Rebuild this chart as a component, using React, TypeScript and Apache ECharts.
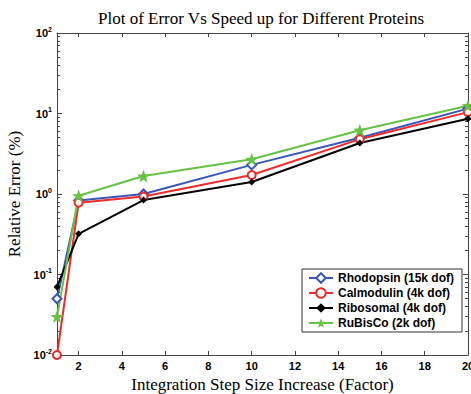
import React, { useEffect, useRef } from "react";
import * as echarts from "echarts";

const xValues = [1, 2, 5, 10, 15, 20];
const rhodopsin = [0.05, 0.83, 1.0, 2.3, 5.0, 11.5];
const calmodulin = [0.01, 0.78, 0.93, 1.72, 4.8, 10.4];
const ribosomal = [0.07, 0.32, 0.84, 1.41, 4.3, 8.6];
const rubisco = [0.03, 0.95, 1.67, 2.7, 6.2, 12.5];

const seriesNames = [
  "Rhodopsin (15k dof)",
  "Calmodulin (4k dof)",
  "Ribosomal (4k dof)",
  "RuBisCo (2k dof)",
];
const xTicks = [2, 4, 6, 8, 10, 12, 14, 16, 18, 20];
const decades = [-2, -1, 0, 1, 2];

function starPath(): string {
  const pts: string[] = [];
  for (let i = 0; i < 10; i++) {
    const r = i % 2 === 0 ? 1 : 0.4;
    const a = -Math.PI / 2 + (i * Math.PI) / 5;
    pts.push(`${(r * Math.cos(a)).toFixed(3)} ${(r * Math.sin(a)).toFixed(3)}`);
  }
  return "path://M" + pts.join(" L") + " Z";
}

export default function App() {
  const ref = useRef<HTMLDivElement>(null);
  useEffect(() => {
    document.body.style.margin = "0";
    const chart = echarts.init(ref.current!, null, { renderer: "svg" });
    const pair = (ys: number[]) => xValues.map((x, i) => [x, ys[i]]);
    const minorLog: number[] = [];
    for (let d = -2; d < 2; d++) {
      for (let k = 2; k <= 9; k++) minorLog.push(d + Math.log10(k));
    }
    const tickFont = { fontFamily: "Liberation Sans, Arial", fontWeight: "bold" as const, fontSize: 11, color: "#000" };
    const nameFont = { fontFamily: "Liberation Serif, Times New Roman", fontWeight: "normal" as const, fontSize: 17, color: "#000" };
    const lineCol = "#444";
    const option: any = {
      animation: false,
      backgroundColor: "#fff",
      title: {
        text: "Plot of Error Vs Speed up for Different Proteins",
        left: 93,
        top: 5,
        textStyle: { ...nameFont },
      },
      grid: { left: 57, right: 3, top: 33, bottom: 39, containLabel: false, outerBoundsMode: "none" },
      legend: {
        orient: "vertical",
        left: 302,
        top: 269,
        backgroundColor: "#fff",
        borderColor: "#333",
        borderWidth: 1,
        padding: [3, 8, 3, 6],
        itemWidth: 24,
        itemHeight: 12,
        itemGap: 3,
        textStyle: { ...tickFont, fontSize: 12 },
        data: seriesNames,
      },
      xAxis: [
        {
          type: "value",
          min: 1,
          max: 20,
          name: "Integration Step Size Increase (Factor)",
          nameLocation: "middle",
          nameGap: 21,
          nameTextStyle: nameFont,
          axisLine: { show: true, onZero: false, lineStyle: { color: lineCol, width: 1 } },
          axisTick: { show: true, inside: true, length: 4, customValues: xTicks, lineStyle: { color: lineCol } },
          axisLabel: { ...tickFont, margin: 5, customValues: xTicks },
          splitLine: { show: false },
        },
        {
          type: "value",
          min: 1,
          max: 20,
          position: "top",
          axisLine: { show: true, onZero: false, lineStyle: { color: lineCol, width: 1 } },
          axisTick: { show: true, inside: true, length: 4, customValues: xTicks, lineStyle: { color: lineCol } },
          axisLabel: { show: false },
          splitLine: { show: false },
        },
      ],
      yAxis: [
        {
          type: "log",
          logBase: 10,
          min: 0.01,
          max: 100,
          name: "Relative Error (%)",
          nameLocation: "middle",
          nameGap: 30,
          nameTextStyle: nameFont,
          axisLine: { show: true, onZero: false, lineStyle: { color: lineCol, width: 1 } },
          axisTick: { show: true, inside: true, length: 5, lineStyle: { color: lineCol } },
          axisLabel: {
            margin: 5,
            formatter: (v: number) => `{b|10}{s|${Math.round(Math.log10(v))}}`,
            rich: {
              b: { ...tickFont, fontSize: 11 },
              s: { ...tickFont, fontSize: 7, padding: [0, 0, 8, 0] },
            },
          },
          splitLine: { show: false },
        },
        {
          type: "value",
          min: -2,
          max: 2,
          position: "left",
          axisLine: { show: false, onZero: false },
          axisTick: { show: true, inside: true, length: 3, customValues: minorLog, lineStyle: { color: lineCol } },
          axisLabel: { show: false },
          splitLine: { show: false },
        },
        {
          type: "value",
          min: -2,
          max: 2,
          position: "right",
          axisLine: { show: true, onZero: false, lineStyle: { color: lineCol, width: 1 } },
          axisTick: { show: true, inside: true, length: 3, customValues: minorLog, lineStyle: { color: lineCol } },
          axisLabel: { show: false },
          splitLine: { show: false },
        },
        {
          type: "value",
          min: -2,
          max: 2,
          position: "right",
          axisLine: { show: false, onZero: false },
          axisTick: { show: true, inside: true, length: 5, customValues: decades, lineStyle: { color: lineCol } },
          axisLabel: { show: false },
          splitLine: { show: false },
        },
      ],
      series: [
        {
          name: seriesNames[0],
          type: "line",
          data: pair(rhodopsin),
          color: "#3a56b8",
          lineStyle: { width: 2 },
          symbol: "emptyDiamond",
          symbolSize: 9,
          itemStyle: { borderWidth: 1.5 },
        },
        {
          name: seriesNames[1],
          type: "line",
          data: pair(calmodulin),
          color: "#ee2a2a",
          lineStyle: { width: 2 },
          symbol: "emptyCircle",
          symbolSize: 8,
          itemStyle: { borderWidth: 1.5 },
        },
        {
          name: seriesNames[2],
          type: "line",
          data: pair(ribosomal),
          color: "#000000",
          lineStyle: { width: 2 },
          symbol: "diamond",
          symbolSize: 7,
        },
        {
          name: seriesNames[3],
          type: "line",
          data: pair(rubisco),
          color: "#66c244",
          lineStyle: { width: 2 },
          symbol: starPath(),
          symbolSize: 13,
        },
      ],
    };
    chart.setOption(option);
    return () => chart.dispose();
  }, []);
  return <div ref={ref} style={{ position: "absolute", left: 0, top: 0, width: 471, height: 394 }} />;
}
